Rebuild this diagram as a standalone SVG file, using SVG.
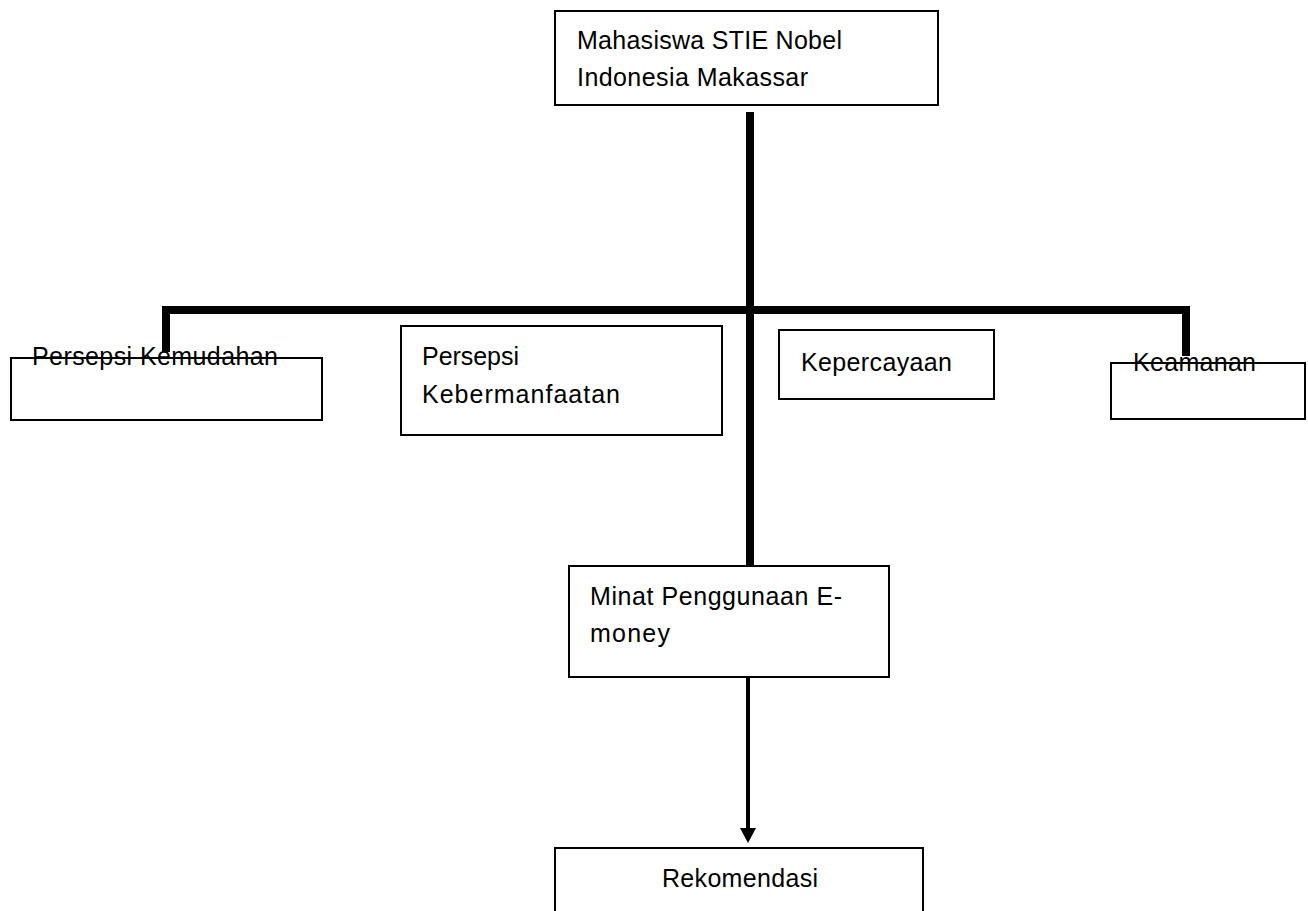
<svg xmlns="http://www.w3.org/2000/svg" width="1308" height="911" viewBox="0 0 1308 911">
<style>
.box{fill:#fff;stroke:#000;stroke-width:2}
.t{font-family:"Liberation Sans",Arial,sans-serif;font-size:25px;fill:#000}
.thick{stroke:#000;stroke-width:8;fill:none;stroke-linecap:butt}
.thin{stroke:#000;stroke-width:4;fill:none}
</style>
<rect width="1308" height="911" fill="#fff"/>
<g id="n-mahasiswa">
<rect class="box" x="555" y="11" width="383" height="94"/>
<text class="t" x="577" y="49" textLength="265">Mahasiswa STIE Nobel</text>
<text class="t" x="577" y="86" textLength="231">Indonesia Makassar</text>
</g>
<g id="n-kemudahan">
<rect class="box" x="11" y="358" width="311" height="62"/>
</g>
<g id="n-kebermanfaatan">
<rect class="box" x="401" y="326" width="321" height="109"/>
<text class="t" x="422" y="365" textLength="97">Persepsi</text>
<text class="t" x="422" y="403" textLength="198">Kebermanfaatan</text>
</g>
<g id="n-kepercayaan">
<rect class="box" x="779" y="330" width="215" height="69"/>
<text class="t" x="801" y="371" textLength="151">Kepercayaan</text>
</g>
<g id="n-keamanan">
<rect class="box" x="1111" y="363" width="194" height="56"/>
</g>
<g id="n-minat">
<rect class="box" x="569" y="566" width="320" height="111"/>
<text class="t" x="590" y="605" textLength="252">Minat Penggunaan E-</text>
<text class="t" x="590" y="642" textLength="80">money</text>
</g>
<g id="n-rekomendasi">
<rect class="box" x="555" y="848" width="368" height="80"/>
<text class="t" x="662" y="887" textLength="156">Rekomendasi</text>
</g>
<g id="connectors">
<line class="thick" x1="750" y1="112" x2="750" y2="566"/>
<polyline class="thick" points="166,352 166,310 1186,310 1186,356"/>
<line class="thin" x1="748" y1="677" x2="748" y2="830"/>
<polygon points="740,828 756,828 748,843" fill="#000"/>
</g>
<g id="labels-over">
<text class="t" x="32" y="365" textLength="246">Persepsi Kemudahan</text>
<text class="t" x="1133" y="371" textLength="123">Keamanan</text>
</g>
</svg>
